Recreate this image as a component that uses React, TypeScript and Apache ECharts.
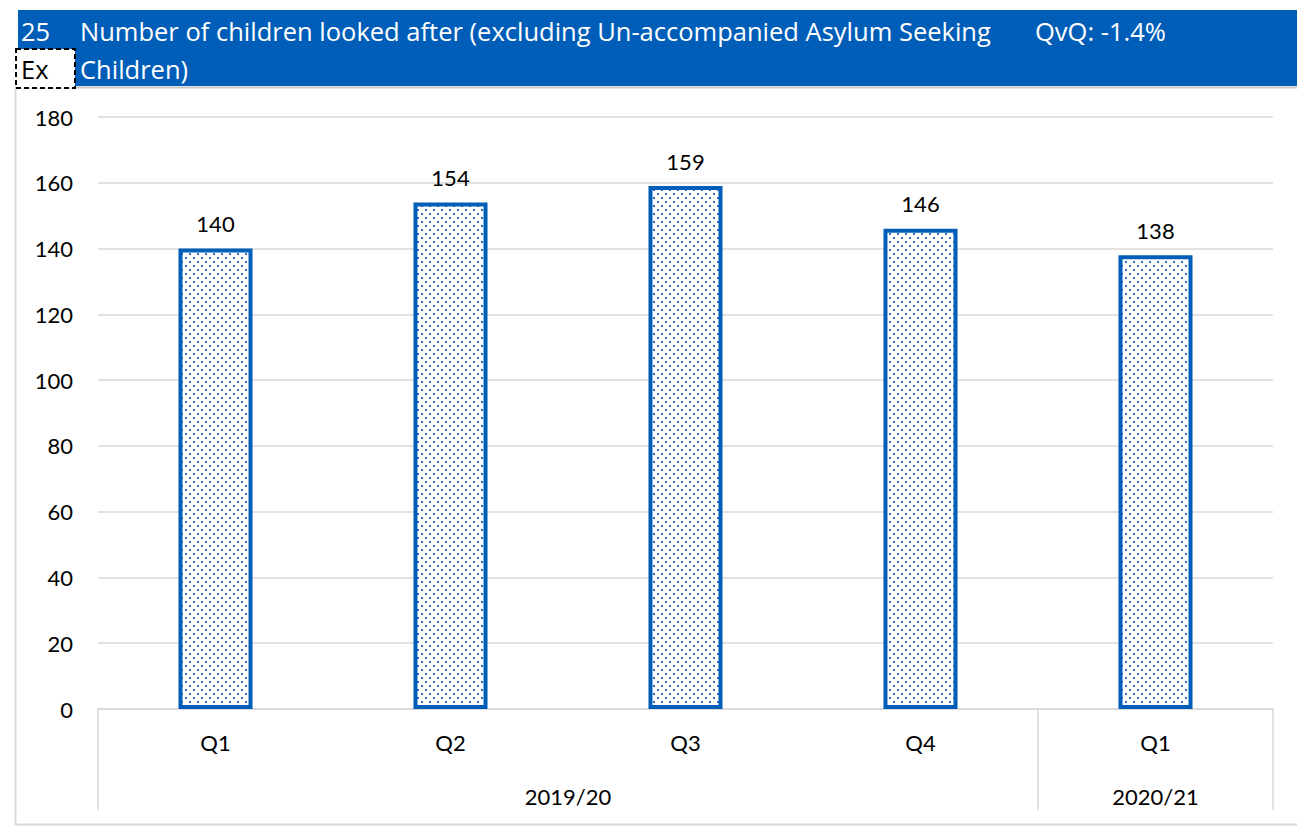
import React, { useEffect, useRef } from "react";
import * as echarts from "echarts";

const quarters = ["Q1", "Q2", "Q3", "Q4", "Q1"];
const childrenLookedAfter = [140, 154, 159, 146, 138];
// Year band: 11 boundary points along the axis, labels at group centres
const yearBand = ["", "", "", "", "2019/20", "", "", "", "", "2020/21", ""];
const yearBoundaries = [0, 8, 10];
const yTicks = { min: 0, max: 180, step: 20 };

const titleNumber = "25";
const titleLine1 = "Number of children looked after (excluding Un-accompanied Asylum Seeking";
const titleLine2 = "Children)";
const changeText = "QvQ: -1.4%";

const BLUE = "#005EB8";
const FONT = "Lato, 'Noto Sans', sans-serif";
const LABEL_SIZE = 22;
const TITLE_FONT = "'Open Sans', Lato, sans-serif";
const TITLE_SIZE = 25.5;

function makeDots(): HTMLCanvasElement {
  const c = document.createElement("canvas");
  c.width = 8;
  c.height = 8;
  const ctx = c.getContext("2d")!;
  ctx.fillStyle = "#ffffff";
  ctx.fillRect(0, 0, 8, 8);
  ctx.fillStyle = "#2f74c8";
  ctx.fillRect(1, 1, 2, 2);
  ctx.fillRect(5, 5, 2, 2);
  return c;
}

export default function App() {
  const ref = useRef<HTMLDivElement>(null);

  useEffect(() => {
    if (!ref.current) return;
    const chart = echarts.init(ref.current, null, { renderer: "svg" });
    const dots = makeDots();
    const titleFont = `${TITLE_SIZE}px ${TITLE_FONT}`;

    chart.setOption({
      animation: false,
      backgroundColor: "#ffffff",
      grid: { left: 98, right: 24, top: 117, bottom: 117, containLabel: false },
      xAxis: [
        {
          type: "category",
          data: quarters,
          boundaryGap: true,
          axisLine: { show: true, lineStyle: { color: "#d9d9d9", width: 1.5 } },
          axisTick: { show: false },
          axisLabel: { color: "#000", fontFamily: FONT, fontSize: LABEL_SIZE, margin: 22 },
          splitLine: { show: false },
        },
        {
          type: "category",
          data: yearBand,
          boundaryGap: false,
          position: "bottom",
          axisLine: { show: false },
          axisTick: {
            show: true,
            length: 101,
            interval: (i: number) => yearBoundaries.includes(i),
            lineStyle: { color: "#d9d9d9", width: 1.5 },
          },
          axisLabel: {
            interval: 0,
            color: "#000",
            fontFamily: FONT,
            fontSize: LABEL_SIZE,
            margin: 76,
          },
          splitLine: { show: false },
        },
      ],
      yAxis: {
        type: "value",
        min: yTicks.min,
        max: yTicks.max,
        interval: yTicks.step,
        axisLine: { show: false },
        axisTick: { show: false },
        axisLabel: { color: "#000", fontFamily: FONT, fontSize: LABEL_SIZE, margin: 25 },
        splitLine: { lineStyle: { color: "#d9d9d9", width: 1.5 } },
      },
      series: [
        {
          type: "bar",
          xAxisIndex: 0,
          data: childrenLookedAfter,
          barWidth: "31.5%",
          itemStyle: {
            color: { image: dots, repeat: "repeat" },
            borderColor: BLUE,
            borderWidth: 4,
          },
          label: {
            show: true,
            position: "top",
            distance: 14,
            color: "#000",
            fontFamily: FONT,
            fontSize: LABEL_SIZE,
          },
        },
      ],
      graphic: [
        {
          type: "rect",
          shape: { x: 18, y: 10, width: 1279, height: 76 },
          style: { fill: BLUE },
          silent: true,
        },
        {
          type: "line",
          shape: { x1: 15, y1: 87.5, x2: 1297, y2: 87.5 },
          style: { stroke: "#c8c8c8", lineWidth: 2 },
          silent: true,
        },
        {
          type: "polyline",
          shape: { points: [[15.5, 88], [15.5, 824.5], [1297, 824.5]] },
          style: { stroke: "#d9d9d9", lineWidth: 2, fill: null },
          silent: true,
        },
        {
          type: "text",
          x: 21,
          y: 31,
          style: { text: titleNumber, fill: "#fff", font: titleFont, verticalAlign: "middle" },
        },
        {
          type: "text",
          x: 80,
          y: 31,
          style: { text: titleLine1, fill: "#fff", font: titleFont, verticalAlign: "middle" },
        },
        {
          type: "text",
          x: 80,
          y: 69,
          style: { text: titleLine2, fill: "#fff", font: titleFont, verticalAlign: "middle" },
        },
        {
          type: "text",
          x: 1035,
          y: 31,
          style: { text: changeText, fill: "#fff", font: titleFont, verticalAlign: "middle" },
        },
        {
          type: "rect",
          shape: { x: 16, y: 49, width: 59, height: 39 },
          style: { fill: "#fff", stroke: "#000", lineWidth: 2, lineDash: [5, 3] },
        },
        {
          type: "text",
          x: 21,
          y: 69,
          style: { text: "Ex", fill: "#000", font: titleFont, verticalAlign: "middle" },
        },
      ],
    });

    return () => chart.dispose();
  }, []);

  return (
    <div
      ref={ref}
      style={{ position: "absolute", left: 0, top: 0, width: 1297, height: 826, background: "#fff" }}
    />
  );
}
